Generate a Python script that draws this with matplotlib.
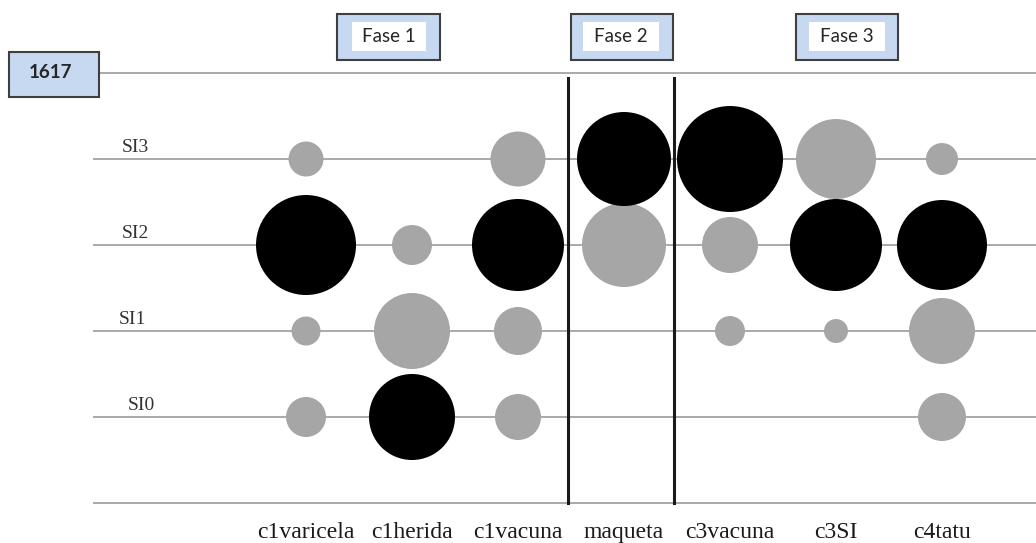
import matplotlib
matplotlib.use('Agg')
import matplotlib.pyplot as plt
from matplotlib.patches import Rectangle

columns = ['c1varicela', 'c1herida', 'c1vacuna', 'maqueta', 'c3vacuna', 'c3SI', 'c4tatu']
levels = ['SI0', 'SI1', 'SI2', 'SI3']

# bubble magnitude per level (0 = no bubble)
si0 = [20, 43, 23, 0, 0, 0, 24]
si1 = [14.5, 38, 24, 0, 15, 12, 33]
si2 = [50, 20, 46, 42, 28, 46, 45]
si3 = [17.5, 0, 27.5, 47, 53, 40, 16]
values = [si0, si1, si2, si3]

# 1 = black bubble, 0 = grey bubble
dark0 = [0, 1, 0, 0, 0, 0, 0]
dark1 = [0, 0, 0, 0, 0, 0, 0]
dark2 = [1, 0, 1, 0, 0, 1, 1]
dark3 = [0, 0, 0, 1, 1, 0, 0]
dark = [dark0, dark1, dark2, dark3]

phases = ['Fase 1', 'Fase 2', 'Fase 3']
year = '1617'

W, H = 1036, 543
fig = plt.figure(figsize=(W / 100, H / 100), dpi=100)
ax = fig.add_axes([0, 0, 1, 1])
ax.set_xlim(-2.887, 6.887)
ax.set_ylim(-1.465, 4.849)
ax.axis('off')

grid_c = '#a9a9a9'
# level lines, top and bottom lines
for lv in range(len(levels)):
    ax.axhline(lv, xmin=(94 / W), xmax=1, color=grid_c, lw=1.4, zorder=1)
ax.axhline(4, xmin=100 / W, xmax=1, color=grid_c, lw=1.4, zorder=1)
ax.axhline(-1, xmin=94 / W, xmax=1, color=grid_c, lw=1.4, zorder=1)

# phase separators
for xv in [2.47, 3.47]:
    ax.plot([xv, xv], [-1.0, 3.94], color='#1a1a1a', lw=2.2, zorder=4)

# bubbles
for lv in range(len(levels)):
    for i, name in enumerate(columns):
        v = values[lv][i]
        if v <= 0:
            continue
        col = 'black' if dark[lv][i] else '#a6a6a6'
        ax.scatter(i, lv, s=(v * 2 * 0.72) ** 2, color=col, edgecolors='none', zorder=3)

# level labels
lab_x = [-1.68, -1.764, -1.736, -1.736]
for lv, name in enumerate(levels):
    ax.text(lab_x[lv], lv + 0.03, name, ha='left', va='bottom',
            family='Liberation Serif', fontsize=14, color='#333333')

# column labels
for i, name in enumerate(columns):
    ax.text(i, -1.34, name, ha='center', va='center',
            family='Liberation Serif', fontsize=17, color='#1a1a1a')

blue = '#c6d9f1'
edge = '#3f3f3f'

def px_rect(x0, y0, x1, y1, **kw):
    r = Rectangle((x0 / W, 1 - y1 / H), (x1 - x0) / W, (y1 - y0) / H,
                  transform=fig.transFigure, **kw)
    fig.patches.append(r)

# phase boxes: outer blue frame with white inner area
boxes = [(337, 14, 440, 60, 352, 426), (571, 14, 673, 60, 583, 659), (796, 14, 898, 60, 809, 885)]
for (x0, y0, x1, y1, ix0, ix1), txt in zip(boxes, phases):
    px_rect(x0, y0, x1, y1, facecolor=blue, edgecolor=edge, lw=1.5)
    px_rect(ix0, 22, ix1, 51, facecolor='white', edgecolor='none')
    fig.text((ix0 + ix1) / 2 / W, 1 - 37 / H, txt, ha='center', va='center',
             family='Lato', fontsize=13.5, color='#262626')

px_rect(9, 52, 99, 97, facecolor=blue, edgecolor=edge, lw=1.5)
fig.text(50 / W, 1 - 73 / H, year, ha='center', va='center',
         family='Lato', fontsize=13.5, fontweight='bold', color='#262626')

fig.savefig('out.png', dpi=100)
